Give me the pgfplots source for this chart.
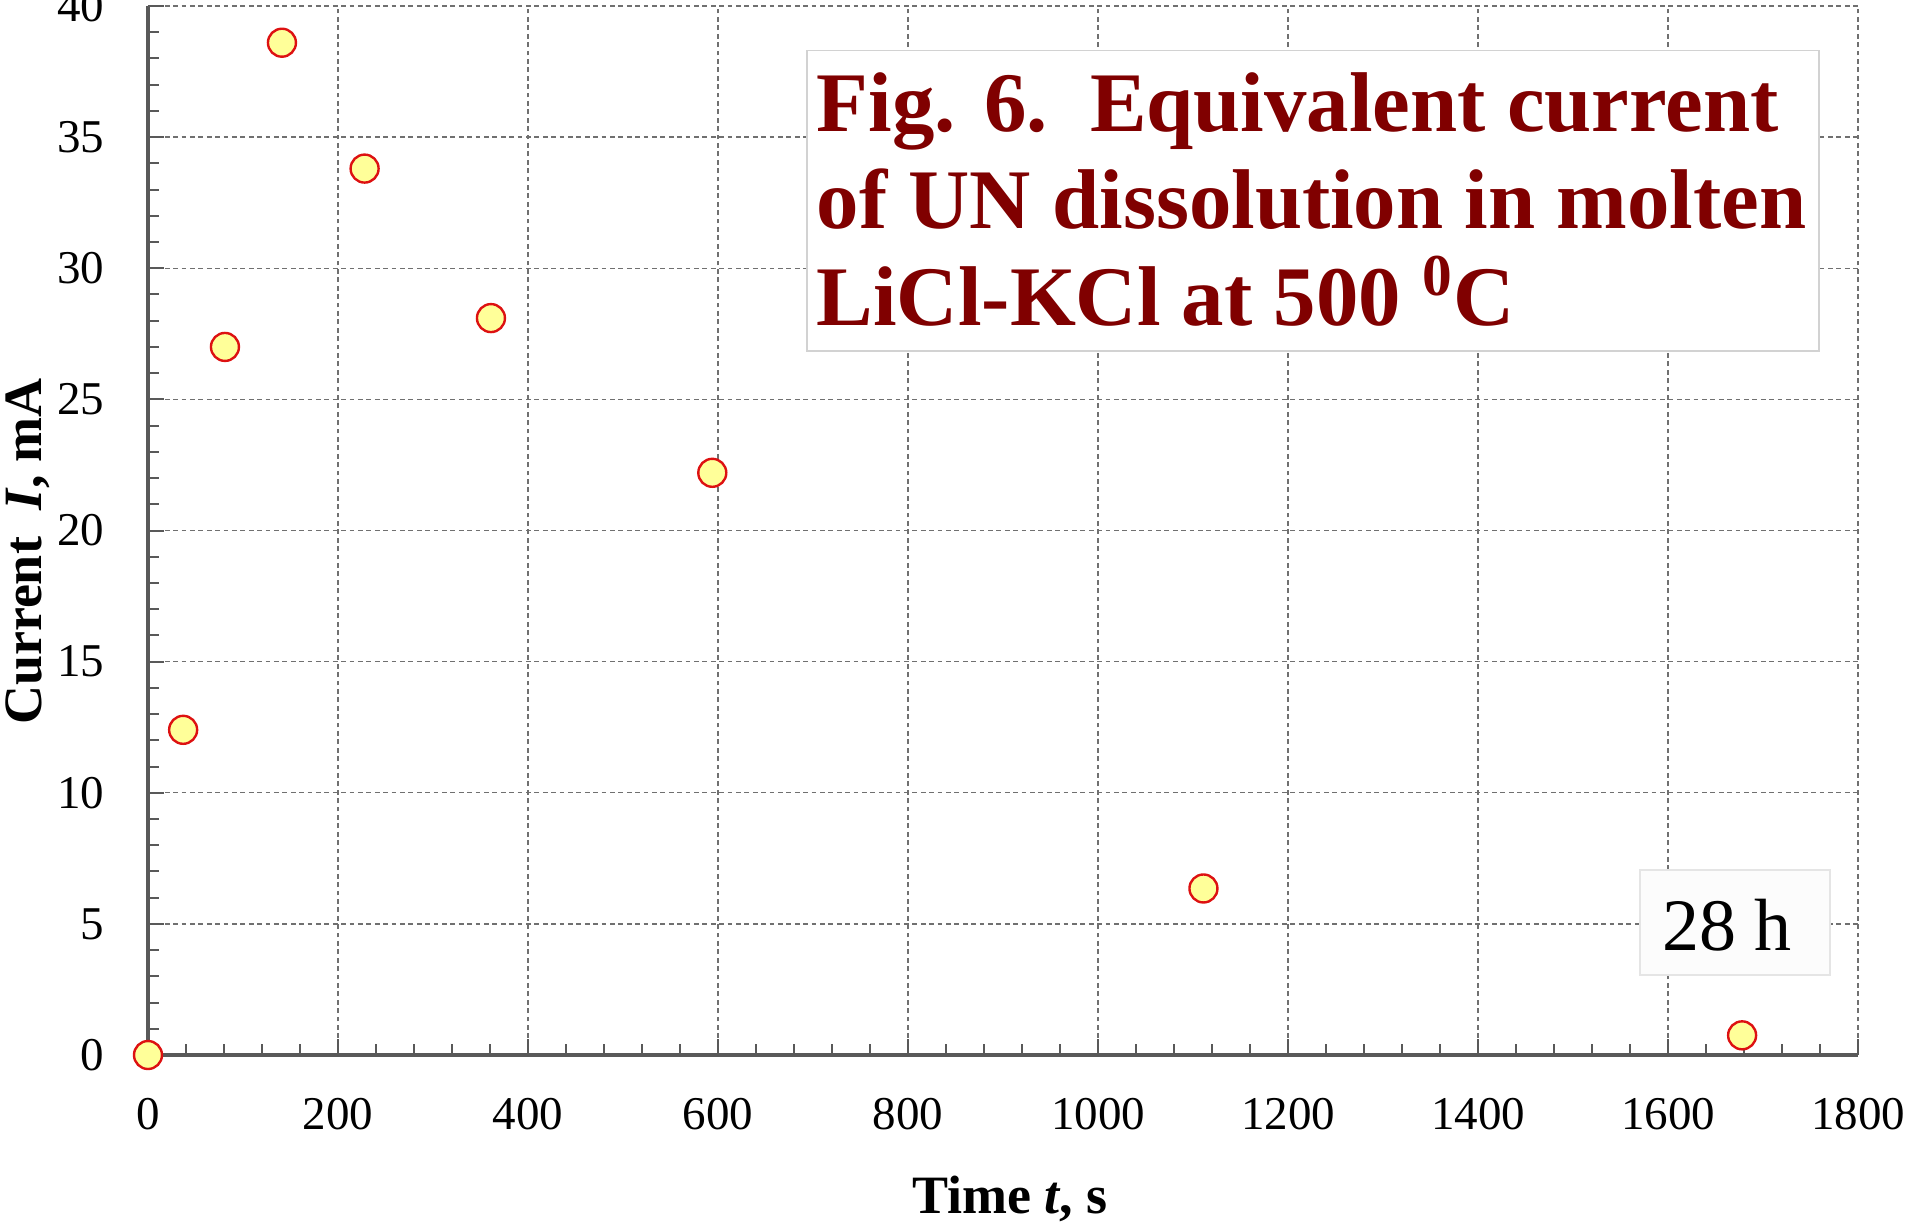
\documentclass[border=0pt]{standalone}
\usepackage{fontspec}
\setmainfont{Liberation Serif}
\usepackage{pgfplots}
\pgfplotsset{compat=1.18}
\definecolor{markfill}{HTML}{FFFF99}
\definecolor{markedge}{HTML}{DD1111}
\definecolor{titlered}{HTML}{800000}
\definecolor{axisgray}{HTML}{595959}
\definecolor{gridgray}{HTML}{707070}

\begin{document}
\begin{tikzpicture}
\begin{axis}[
  at={(0,0)}, anchor=south west,
  scale only axis,
  width=427.5pt, height=262.25pt,
  xmin=0, xmax=1800, ymin=0, ymax=40,
  axis x line*=bottom, axis y line*=left,
  axis line style={axisgray, line width=0.8pt},
  xtick={0,200,...,1800}, ytick={0,5,...,40},
  minor tick num=4,
  tick align=inside,
  major tick length=4pt, minor tick length=2.8pt,
  tick style={axisgray, line width=0.5pt},
  grid=major,
  major grid style={gridgray, line width=0.35pt, dash pattern=on 1.2pt off 0.9pt},
  /pgf/number format/assume math mode=true,
  /pgf/number format/set thousands separator={},
  ticklabel style={font=\fontsize{11.75}{13}\selectfont, inner sep=0pt},
  xticklabel style={anchor=north, yshift=-10.5pt},
  yticklabel style={anchor=east, xshift=-10.75pt},
  clip=false,
]
\addplot[only marks, mark=*, mark size=3.5pt,
  mark options={fill=markfill, draw=markedge, line width=0.6pt}] table {
x y
0 0
37 12.4
81 27.0
141 38.6
228 33.8
361 28.1
594 22.2
1111 6.35
1678 0.75
};

% title box
\draw[gray!35, fill=white, line width=0.4pt]
  (axis cs:693.7,26.85) rectangle (axis cs:1759,38.3);
\begin{scope}[every node/.style={anchor=base west, inner sep=0pt, text=titlered,
    font=\fontsize{21.2}{24}\selectfont\bfseries}]
\node at (axis cs:703.2,35.2) {Fig. 6.\ \ Equivalent current};
\node at (axis cs:703.2,31.5) {of UN dissolution in molten};
\node at (axis cs:703.2,27.8) {LiCl-KCl at 500 \textsuperscript{0}C};
\end{scope}

% 28 h box
\draw[gray!20, fill=black!1, line width=0.4pt]
  (axis cs:1570.5,3.05) rectangle (axis cs:1770.5,7.05);
\node[anchor=base, inner sep=0pt, font=\fontsize{18.5}{20}\selectfont]
  at (axis cs:1662,4.0) {28 h};

% axis labels
\node[anchor=base, inner sep=0pt, font=\fontsize{13.5}{15}\selectfont\bfseries]
  at ([yshift=-39.5pt] axis description cs:0.504,0) {Time \textit{t}, s};
\node[anchor=base, rotate=90, inner sep=0pt, font=\fontsize{13.5}{15}\selectfont\bfseries]
  at ([xshift=-26.6pt] axis description cs:0,0.48) {Current\ \ \textit{I}, mA};
\end{axis}
\pgfresetboundingbox
\path[use as bounding box] (-37pt,-42pt) rectangle (441.75pt,263.75pt);
\end{tikzpicture}
\end{document}
